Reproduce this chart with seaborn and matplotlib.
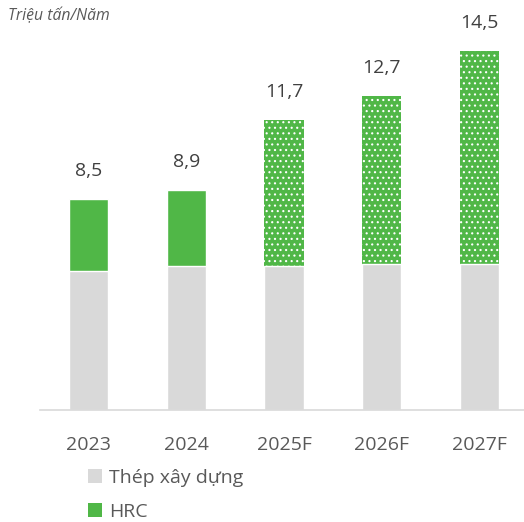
import seaborn as sns
import pandas as pd
import matplotlib.pyplot as plt
from matplotlib.patches import Patch

years = ["2023", "2024", "2025F", "2026F", "2027F"]
thep_xay_dung = [5.6, 5.8, 5.8, 5.9, 5.9]
hrc = [2.9, 3.1, 5.9, 6.8, 8.6]
total_labels = ["8,5", "8,9", "11,7", "12,7", "14,5"]
forecast = [False, False, True, True, True]

grey = "#D9D9D9"
green = "#50B747"
text_col = "#595959"

sns.set_style("white")
plt.rcParams["font.family"] = ["Open Sans", "DejaVu Sans"]
plt.rcParams["hatch.color"] = "white"
plt.rcParams["hatch.linewidth"] = 0.8

df = pd.DataFrame({"year": years, "steel": thep_xay_dung, "hrc": hrc})
df["total"] = df["steel"] + df["hrc"]

fig = plt.figure(figsize=(5.24, 5.22), dpi=100)
ax = fig.add_axes([40 / 524, 1 - 409.5 / 522, 484 / 524, (409.5 - 14) / 522])

sns.barplot(data=df, x="year", y="total", color=green, width=0.4, saturation=1, ax=ax)
sns.barplot(data=df, x="year", y="steel", color=grey, width=0.4, saturation=1, ax=ax)

n = len(years)
for i, p in enumerate(ax.patches[:n]):
    if forecast[i]:
        p.set_hatch("...")
        p.set_edgecolor("white")
        p.set_linewidth(0)

for i, (t, lab) in enumerate(zip(df["total"], total_labels)):
    ax.annotate(lab, (i, t), xytext=(0, 16.5), textcoords="offset points",
                ha="center", va="baseline", fontsize=14, color="#404040")

ax.set_xlim(-0.496, 4.455)
ax.set_ylim(0, 16)
ax.set_xlabel("")
ax.set_ylabel("")
ax.set_yticks([])
ax.tick_params(axis="x", length=0, pad=19, labelsize=14, labelcolor=text_col)
for s in ["top", "right", "left"]:
    ax.spines[s].set_visible(False)
ax.spines["bottom"].set_color(grey)
ax.spines["bottom"].set_linewidth(1.2)

fig.text(8 / 524, 1 - 20.5 / 522, "Triệu tấn/Năm", fontsize=11.3, style="italic",
         color=text_col, ha="left", va="baseline")

handles = [Patch(facecolor=grey, edgecolor="none"), Patch(facecolor=green, edgecolor="none")]
fig.legend(handles, ["Thép xây dựng", "HRC"], loc="upper left",
           bbox_to_anchor=(88 / 524, 1 - 469 / 522), frameon=False, borderpad=0,
           borderaxespad=0, handlelength=0.7, handleheight=0.7, handletextpad=0.4,
           labelspacing=0.8, fontsize=14, labelcolor=text_col)

fig.savefig("out.png", dpi=100)
